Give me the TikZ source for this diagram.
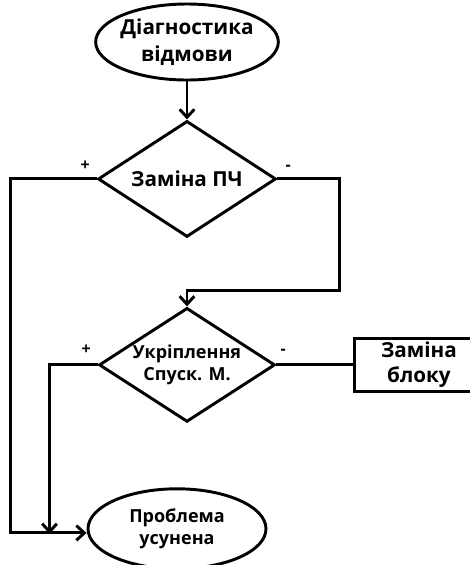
\documentclass[tikz,border=0pt]{standalone}
\usepackage{fontspec}
\setmainfont{Open Sans}
\usetikzlibrary{positioning,shapes.geometric,arrows.meta}

\tikzset{
  term/.style={draw, ellipse, inner sep=-8pt, align=center},
  decision/.style={draw, diamond, inner sep=-8pt, align=center},
  block/.style={draw, rectangle, inner sep=-8pt, align=center},
  sign/.style={font=\bfseries\fontsize{12}{12}\selectfont, inner sep=1pt},
  arr/.style={-{Straight Barb[length=6pt,width=11pt]}},
  big/.style={font=\bfseries\fontsize{15.5}{20}\selectfont},
  small/.style={font=\bfseries\fontsize{13.5}{16}\selectfont},
}

\begin{document}
\begin{tikzpicture}[line width=2.2pt]
  \useasboundingbox (0,0) rectangle (352.5pt,-423.75pt);
  % blocks
  \node[term, big, minimum width=137pt, minimum height=57pt] (start) at (140.25pt,-31.5pt) {Діагностика\\відмови};
  \node[decision, big, below=28.5pt of start, minimum width=133.5pt, minimum height=87pt] (d1) {Заміна ПЧ};
  \node[decision, small, below=51pt of d1, minimum width=132pt, minimum height=85.5pt] (d2) {Укріплення\\Спуск. М.};
  \node[block, big, font=\bfseries\fontsize{15.5}{19}\selectfont, right=57.75pt of d2, minimum width=96pt, minimum height=39.75pt] (blk) {Заміна\\блоку};
  \node[term, small, font=\bfseries\fontsize{13.5}{17}\selectfont, below=48pt of d2, xshift=-7.5pt, minimum width=133.5pt, minimum height=60pt] (done) {Проблема\\усунена};
  % yes / no marks
  \node[sign, above left=4pt and 3pt of d1.west] (p1) {+};
  \node[sign, above right=4pt and 4pt of d1.east] (m1) {-};
  \node[sign, above left=6pt and 3pt of d2.west] (p2) {+};
  \node[sign, above right=6pt and 1pt of d2.east] (m2) {-};
  % turning points
  \coordinate[below right=84pt and 46.5pt of d1.east] (r1);
  \coordinate[below left=265.5pt and 64.5pt of d1.west] (l1);
  \coordinate[below left=126.75pt and 36pt of d2.west] (l2);
  % lines
  \draw[arr] (start) -- (d1);
  \draw[arr] (d1.east) -| (r1) -| (d2.north);
  \draw[arr] (d1.west) -| (l1) -- (l1 -| done.west);
  \draw[arr] (d2.west) -| (l2);
  \draw (d2.east) -- (blk.west);
\end{tikzpicture}
\end{document}
